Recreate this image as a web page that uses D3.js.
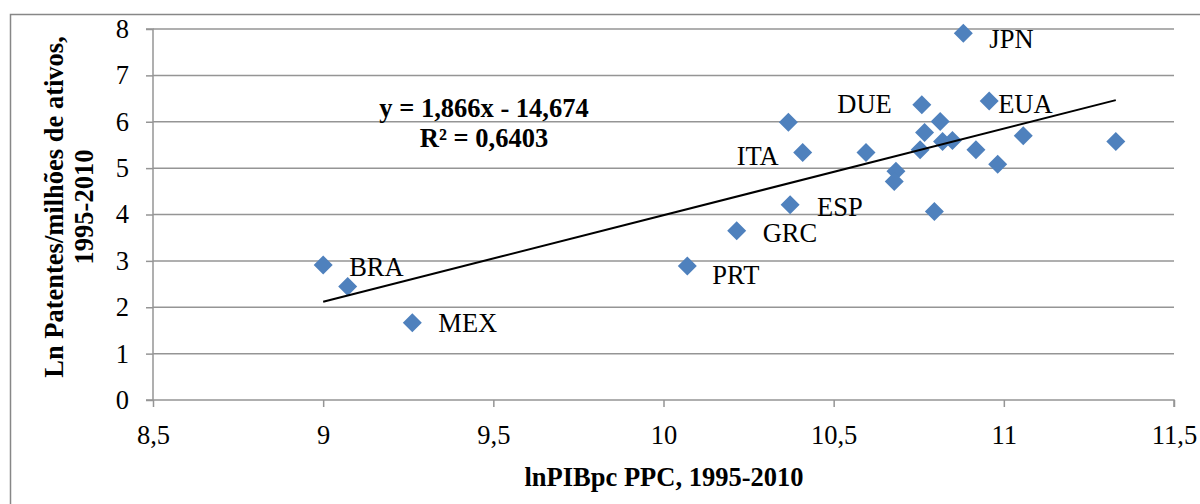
<!DOCTYPE html>
<html>
<head>
<meta charset="utf-8">
<script src="https://cdn.jsdelivr.net/npm/d3@7"></script>
<style>
  html, body { margin: 0; padding: 0; background: #fff; }
  svg { display: block; font-family: "Liberation Serif", "Times New Roman", serif; }
</style>
</head>
<body>
<svg id="chart" width="1200" height="504"></svg>
<script>
// ---- data ----
const countries = ["BRA", "", "MEX", "PRT", "GRC", "ESP", "ITA", "", "", "JPN", "DUE", "EUA",
                   "", "", "", "", "", "", "", "", "", "", "", ""];
const lnGDP = [9.00, 9.072, 9.262, 10.070, 10.215, 10.372, 10.409, 10.367, 10.595, 10.881, 10.759, 10.957,
               10.813, 10.767, 10.820, 10.849, 10.754, 10.918, 11.057, 11.329, 10.982, 10.683, 10.678, 10.796];
const lnPatents = [2.91, 2.445, 1.668, 2.89, 3.65, 4.21, 5.337, 5.99, 5.337, 7.91, 6.366, 6.45,
                   6.006, 5.77, 5.574, 5.596, 5.395, 5.395, 5.70, 5.575, 5.086, 4.93, 4.71, 4.065];
const xTicks = [8.5, 9, 9.5, 10, 10.5, 11, 11.5];
const xTickLabels = ["8,5", "9", "9,5", "10", "10,5", "11", "11,5"];
const yTicks = [0, 1, 2, 3, 4, 5, 6, 7, 8];
const trendSlope = 1.866;
const trendIntercept = -14.674;
const equationLines = ["y = 1,866x - 14,674", "R² = 0,6403"];
const xTitle = "lnPIBpc PPC, 1995-2010";
const yTitleLines = ["Ln Patentes/milhões de ativos,", "1995-2010"];

// ---- drawing ----
(function () {
const svg = d3.select("#chart");
const W = 1200, H = 504;
const pL = 153, pR = 1174, pT = 29, pB = 400;
const x = d3.scaleLinear().domain([8.5, 11.5]).range([pL, pR]);
const y = d3.scaleLinear().domain([0, 8]).range([pB, pT]);
const gridColor = "#959595";
const fs = 26.5;

// outer frame
svg.append("path")
  .attr("d", `M10.5,${H + 5} L10.5,14.5 L${W + 5},14.5`)
  .attr("fill", "none").attr("stroke", "#878787").attr("stroke-width", 1.5);

// horizontal gridlines
svg.append("g").selectAll("line").data(yTicks.filter(d => d > 0)).join("line")
  .attr("x1", pL).attr("x2", pR)
  .attr("y1", d => y(d)).attr("y2", d => y(d))
  .attr("stroke", gridColor).attr("stroke-width", 1.5);

// y axis
const yAxis = d3.axisLeft(y).tickValues(yTicks).tickSize(7).tickPadding(17)
  .tickFormat(d => String(d));
const gy = svg.append("g").attr("transform", `translate(${pL},0)`).call(yAxis);
gy.select(".domain").attr("stroke", gridColor).attr("stroke-width", 1.5).attr("d", `M-7,${pT}H0V${pB}H-7`);
gy.selectAll(".tick line").attr("stroke", gridColor).attr("stroke-width", 1.5);
gy.selectAll(".tick text").attr("font-family", "Liberation Serif").attr("font-size", fs).attr("fill", "#000");

// x axis
const xAxis = d3.axisBottom(x).tickValues(xTicks).tickSize(7).tickPadding(18)
  .tickFormat((d, i) => xTickLabels[i]);
const gx = svg.append("g").attr("transform", `translate(0,${pB})`).call(xAxis);
gx.select(".domain").attr("stroke", gridColor).attr("stroke-width", 1.5).attr("d", `M${pL},0H${pR}V7`);
gx.selectAll(".tick line").attr("stroke", gridColor).attr("stroke-width", 1.5);
gx.selectAll(".tick text").attr("font-family", "Liberation Serif").attr("font-size", fs).attr("fill", "#000");

// points
const pts = lnGDP.map((v, i) => ({ x: v, y: lnPatents[i], name: countries[i] }));
const r = 9.5;
svg.append("g").selectAll("path").data(pts).join("path")
  .attr("d", d => `M${x(d.x)},${y(d.y) - r}L${x(d.x) + r},${y(d.y)}L${x(d.x)},${y(d.y) + r}L${x(d.x) - r},${y(d.y)}Z`)
  .attr("fill", "#4F81BD");

// trend line
const xmin = d3.min(lnGDP), xmax = d3.max(lnGDP);
svg.append("line")
  .attr("x1", x(xmin)).attr("y1", y(trendSlope * xmin + trendIntercept))
  .attr("x2", x(xmax)).attr("y2", y(trendSlope * xmax + trendIntercept))
  .attr("stroke", "#000").attr("stroke-width", 2);

// data labels
const labelOffsets = {
  BRA: [26, 11, "start"], MEX: [26, 9, "start"], PRT: [25, 18, "start"],
  GRC: [26, 11, "start"], ESP: [27, 11, "start"], ITA: [-24, 13, "end"],
  DUE: [-30, 8, "end"], EUA: [9, 12, "start"], JPN: [26, 15, "start"]
};
svg.append("g").selectAll("text").data(pts.filter(d => d.name)).join("text")
  .attr("x", d => x(d.x) + labelOffsets[d.name][0])
  .attr("y", d => y(d.y) + labelOffsets[d.name][1])
  .attr("text-anchor", d => labelOffsets[d.name][2])
  .attr("font-size", fs).attr("fill", "#000")
  .text(d => d.name);

// equation
svg.append("g").selectAll("text").data(equationLines).join("text")
  .attr("x", 484).attr("y", (d, i) => 117 + i * 30)
  .attr("text-anchor", "middle").attr("font-weight", "bold").attr("font-size", fs)
  .text(d => d);

// axis titles
svg.append("text").attr("x", 664).attr("y", 486).attr("text-anchor", "middle")
  .attr("font-weight", "bold").attr("font-size", fs).text(xTitle);
svg.append("g").selectAll("text").data(yTitleLines).join("text")
  .attr("transform", (d, i) => `translate(${54 + i * 30},207) rotate(-90)`)
  .attr("text-anchor", "middle").attr("dominant-baseline", "central")
  .attr("font-weight", "bold").attr("font-size", fs).text(d => d);
})();
</script>
</body>
</html>
